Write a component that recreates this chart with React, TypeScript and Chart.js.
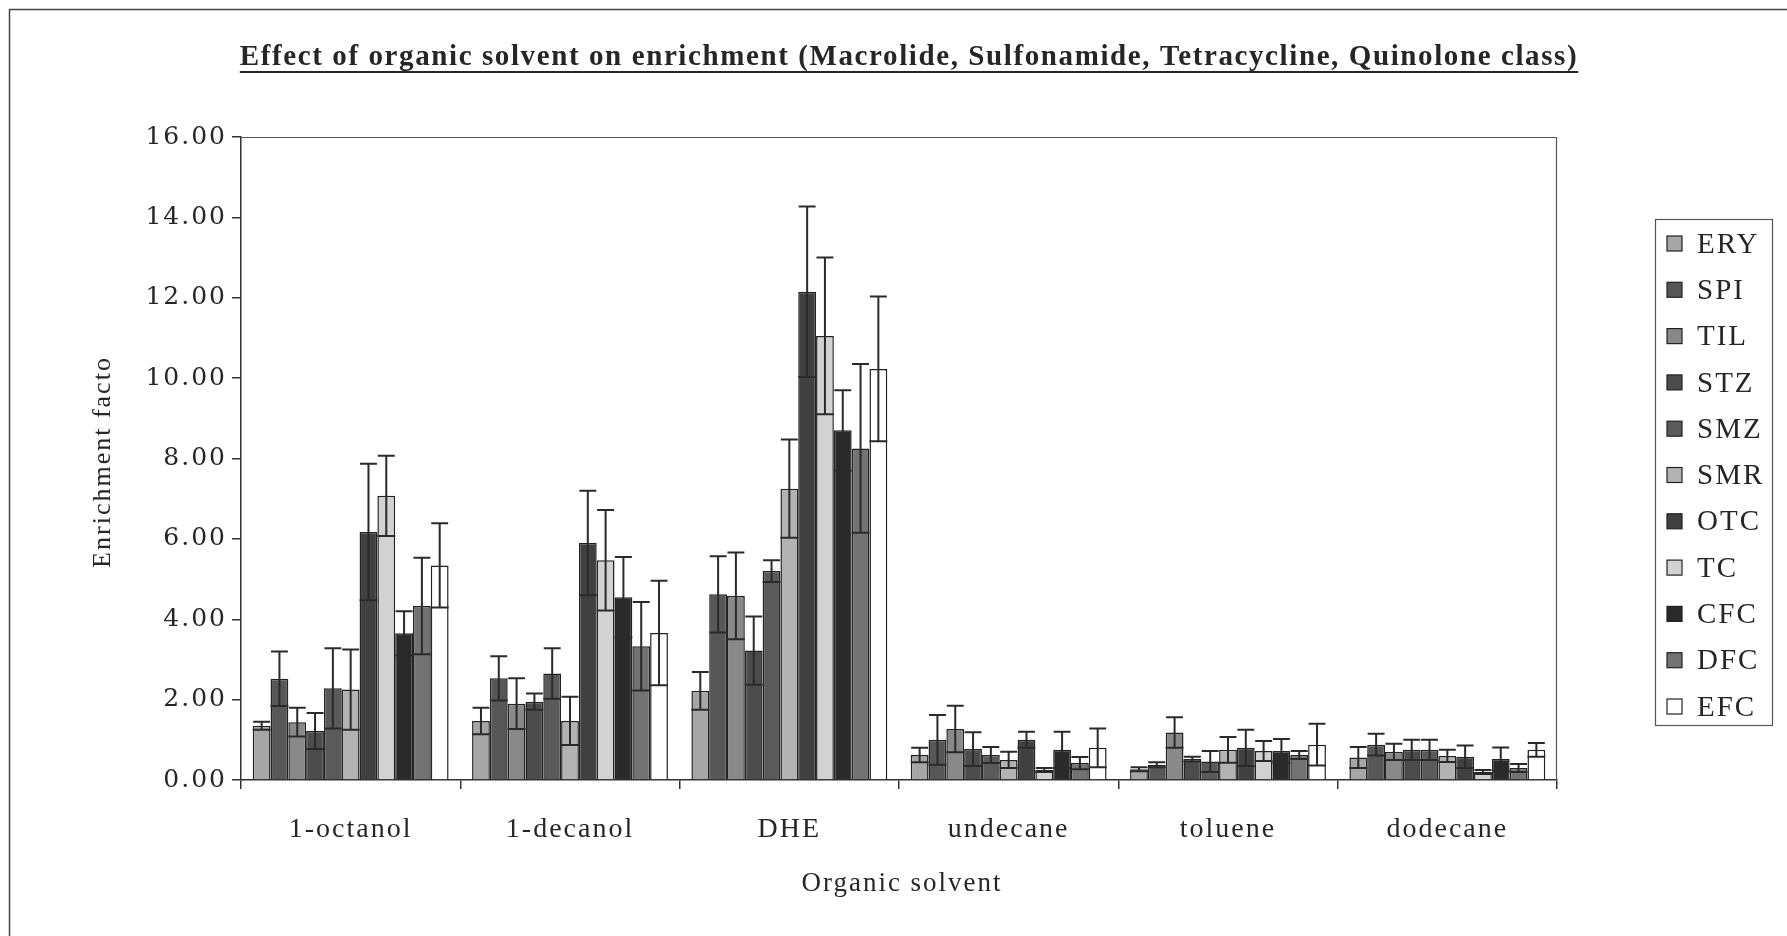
import React, { useEffect, useRef } from 'react';
import { Chart, registerables } from 'chart.js';

Chart.register(...registerables);

const W = 1787;
const H = 936;

const TITLE = 'Effect of organic solvent on enrichment (Macrolide, Sulfonamide, Tetracycline, Quinolone class)';
const X_TITLE = 'Organic solvent';
const Y_TITLE = 'Enrichment facto';

const categories = ['1-octanol', '1-decanol', 'DHE', 'undecane', 'toluene', 'dodecane'];
const yTicks = [0, 2, 4, 6, 8, 10, 12, 14, 16];

// Mean enrichment factors per solvent, and the +/- spread shown by error bars
const ERY = [1.35, 1.47, 2.22, 0.62, 0.27, 0.56];
const ERY_ERR = [0.1, 0.33, 0.47, 0.18, 0.05, 0.26];
const SPI = [2.52, 2.53, 4.62, 1.0, 0.38, 0.88];
const SPI_ERR = [0.68, 0.55, 0.95, 0.62, 0.06, 0.27];
const TIL = [1.44, 1.9, 4.58, 1.27, 1.18, 0.7];
const TIL_ERR = [0.36, 0.63, 1.08, 0.58, 0.38, 0.2];
const STZ = [1.22, 1.95, 3.22, 0.77, 0.52, 0.75];
const STZ_ERR = [0.45, 0.2, 0.85, 0.42, 0.06, 0.25];
const SMZ = [2.28, 2.65, 5.2, 0.62, 0.46, 0.75];
const SMZ_ERR = [1.0, 0.63, 0.27, 0.2, 0.26, 0.25];
const SMR = [2.25, 1.47, 7.25, 0.5, 0.75, 0.6];
const SMR_ERR = [1.0, 0.6, 1.22, 0.2, 0.32, 0.15];
const OTC = [6.17, 5.9, 12.15, 1.0, 0.8, 0.58];
const OTC_ERR = [1.7, 1.3, 2.12, 0.2, 0.45, 0.28];
const TC = [7.07, 5.47, 11.05, 0.25, 0.72, 0.2];
const TC_ERR = [1.0, 1.25, 1.95, 0.05, 0.25, 0.05];
const CFC = [3.65, 4.55, 8.7, 0.75, 0.72, 0.52];
const CFC_ERR = [0.55, 1.0, 1.0, 0.45, 0.3, 0.29];
const DFC = [4.33, 3.33, 8.25, 0.42, 0.62, 0.3];
const DFC_ERR = [1.2, 1.1, 2.1, 0.15, 0.1, 0.1];
const EFC = [5.34, 3.66, 10.23, 0.8, 0.88, 0.75];
const EFC_ERR = [1.05, 1.3, 1.8, 0.48, 0.52, 0.17];

const series = [
  { label: 'ERY', data: ERY, err: ERY_ERR, color: '#a6a6a6' },
  { label: 'SPI', data: SPI, err: SPI_ERR, color: '#575757' },
  { label: 'TIL', data: TIL, err: TIL_ERR, color: '#898989' },
  { label: 'STZ', data: STZ, err: STZ_ERR, color: '#4c4c4c' },
  { label: 'SMZ', data: SMZ, err: SMZ_ERR, color: '#5a5a5a' },
  { label: 'SMR', data: SMR, err: SMR_ERR, color: '#b3b3b3' },
  { label: 'OTC', data: OTC, err: OTC_ERR, color: '#404040' },
  { label: 'TC', data: TC, err: TC_ERR, color: '#d2d2d2' },
  { label: 'CFC', data: CFC, err: CFC_ERR, color: '#2a2a2a' },
  { label: 'DFC', data: DFC, err: DFC_ERR, color: '#737373' },
  { label: 'EFC', data: EFC, err: EFC_ERR, color: '#ffffff' },
];

const SERIF = '"Liberation Serif", "Times New Roman", serif';
const INK = '#262626';

// Spaced-out lettering used across the figure
const spacingPlugin = {
  id: 'spacing',
  beforeLayout(chart: any) {
    chart.ctx.letterSpacing = '2px';
  },
  beforeDraw(chart: any) {
    const ctx = chart.ctx;
    ctx.letterSpacing = '2px';
    ctx.save();
    ctx.fillStyle = '#ffffff';
    ctx.fillRect(0, 0, chart.width, chart.height);
    ctx.restore();
  },
};

// Error bars: stem from mean-err to mean+err, cap on top, cross line at the lower end
const errorBarPlugin = {
  id: 'errorBars',
  afterDatasetsDraw(chart: any) {
    const ctx = chart.ctx;
    const y = chart.scales.y;
    ctx.save();
    ctx.strokeStyle = '#2a2a2a';
    ctx.lineWidth = 2;
    chart.data.datasets.forEach((ds: any, i: number) => {
      const meta = chart.getDatasetMeta(i);
      meta.data.forEach((bar: any, j: number) => {
        const v = ds.data[j];
        const e = ds.errors[j];
        if (!e) return;
        const { x, width } = bar.getProps(['x', 'width'], true);
        const top = y.getPixelForValue(v + e);
        const bot = y.getPixelForValue(Math.max(0, v - e));
        const half = width / 2;
        ctx.beginPath();
        ctx.moveTo(x, bot);
        ctx.lineTo(x, top);
        ctx.moveTo(x - half * 0.95, top);
        ctx.lineTo(x + half * 0.95, top);
        ctx.moveTo(x - half, bot);
        ctx.lineTo(x + half, bot);
        ctx.stroke();
      });
    });
    ctx.restore();
  },
};

// Frame, plot border, titles and legend box
const decorPlugin = {
  id: 'decor',
  afterDraw(chart: any) {
    const ctx = chart.ctx;
    const a = chart.chartArea;
    ctx.save();

    // outer frame
    ctx.strokeStyle = '#444';
    ctx.lineWidth = 1.5;
    ctx.beginPath();
    ctx.moveTo(9.5, H);
    ctx.lineTo(9.5, 9.5);
    ctx.lineTo(W, 9.5);
    ctx.stroke();

    // plot area border (top and right)
    ctx.strokeStyle = '#555';
    ctx.lineWidth = 1.2;
    ctx.beginPath();
    ctx.moveTo(a.left, a.top + 0.5);
    ctx.lineTo(a.right - 0.5, a.top + 0.5);
    ctx.lineTo(a.right - 0.5, a.bottom);
    ctx.stroke();

    // chart title, bold and underlined
    ctx.letterSpacing = '1.6px';
    ctx.fillStyle = INK;
    ctx.font = `bold 29px ${SERIF}`;
    ctx.textAlign = 'center';
    ctx.textBaseline = 'middle';
    ctx.fillText(TITLE, 909, 58);
    const tw = ctx.measureText(TITLE).width;
    ctx.strokeStyle = INK;
    ctx.lineWidth = 2;
    ctx.beginPath();
    ctx.moveTo(909 - tw / 2, 72);
    ctx.lineTo(909 + tw / 2, 72);
    ctx.stroke();

    // axis titles
    ctx.letterSpacing = '2px';
    ctx.font = `27px ${SERIF}`;
    ctx.fillText(X_TITLE, 902, 884);
    ctx.font = `26px ${SERIF}`;
    ctx.save();
    ctx.translate(103, 462);
    ctx.rotate(-Math.PI / 2);
    ctx.fillText(Y_TITLE, 0, 0);
    ctx.restore();

    // legend
    const lx = 1655, ly = 219, lw = 117, lh = 506;
    ctx.strokeStyle = '#555';
    ctx.lineWidth = 1.2;
    ctx.strokeRect(lx + 0.5, ly + 0.5, lw, lh);
    ctx.textAlign = 'left';
    ctx.font = `29px ${SERIF}`;
    chart.data.datasets.forEach((ds: any, i: number) => {
      const cy = 244 + i * 46.3;
      ctx.fillStyle = ds.backgroundColor;
      ctx.fillRect(1667, cy - 8, 15, 15);
      ctx.strokeStyle = '#222';
      ctx.lineWidth = 1.2;
      ctx.strokeRect(1667, cy - 8, 15, 15);
      ctx.fillStyle = INK;
      ctx.fillText(ds.label, 1697, cy + 1);
    });
    ctx.restore();
  },
};

export default function App() {
  const ref = useRef<HTMLCanvasElement | null>(null);

  useEffect(() => {
    const canvas = ref.current;
    if (!canvas) return;
    const chart = new Chart(canvas, {
      type: 'bar',
      data: {
        labels: categories,
        datasets: series.map((s) => ({
          label: s.label,
          data: s.data,
          errors: s.err,
          backgroundColor: s.color,
          borderColor: '#222',
          borderWidth: 1.5,
          categoryPercentage: 0.893,
          barPercentage: 1.0,
        })) as any,
      },
      options: {
        responsive: false,
        animation: false,
        events: [],
        layout: { padding: { top: 137, right: W - 1557, bottom: 0, left: 0 } },
        plugins: {
          legend: { display: false },
          title: { display: false },
          tooltip: { enabled: false },
        },
        scales: {
          x: {
            type: 'category',
            offset: true,
            grid: { offset: true, drawOnChartArea: false, tickLength: 9, color: '#333', lineWidth: 1.5 },
            border: { color: '#333', width: 1.5 },
            ticks: { font: { family: SERIF, size: 28 }, color: INK, padding: 24, maxRotation: 0 },
            afterFit: (s: any) => {
              s.height = H - 780;
            },
          },
          y: {
            min: 0,
            max: 16,
            afterBuildTicks: (s: any) => {
              s.ticks = yTicks.map((v) => ({ value: v }));
            },
            ticks: {
              callback: (v: any) => Number(v).toFixed(2),
              font: { family: '"DejaVu Serif", serif', size: 25 },
              color: INK,
              padding: 5,
            },
            grid: { drawOnChartArea: false, tickLength: 9, color: '#333', lineWidth: 1.5 },
            border: { color: '#333', width: 1.5 },
            afterFit: (s: any) => {
              s.width = 241;
            },
          },
        },
      } as any,
      plugins: [spacingPlugin, errorBarPlugin, decorPlugin],
    });
    return () => chart.destroy();
  }, []);

  return (
    <div style={{ position: 'absolute', left: 0, top: 0, width: W, height: H, background: '#fff' }}>
      <canvas ref={ref} width={W} height={H} />
    </div>
  );
}
